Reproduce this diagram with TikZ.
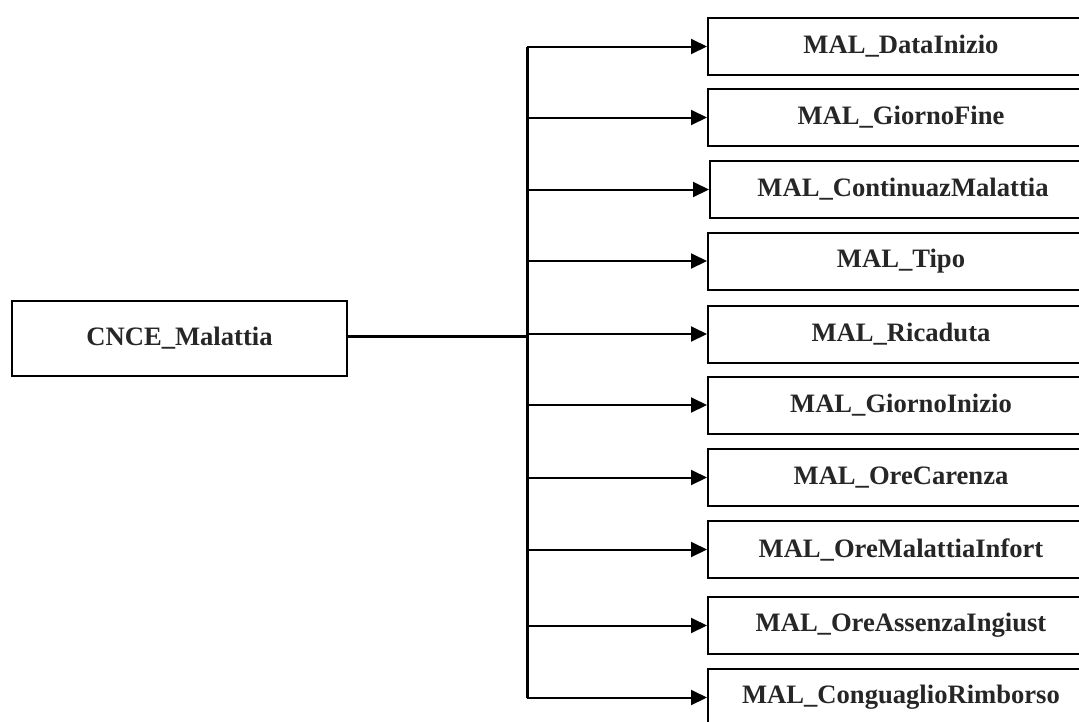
\documentclass[tikz,border=0pt]{standalone}
\usepackage{fontspec}
\setmainfont{Liberation Serif}
\usetikzlibrary{arrows.meta}
\begin{document}
\begin{tikzpicture}[x=1pt,y=-1pt,
  box/.style={draw=black, line width=2pt, fill=white, minimum width=386pt, minimum height=57pt,
    inner sep=0pt, anchor=west, font=\bfseries\fontsize{26.6}{30}\selectfont, text=black!85},
  rootbox/.style={draw=black, line width=2pt, fill=white, minimum width=335pt, minimum height=75pt,
    inner sep=0pt, font=\bfseries\fontsize{26.6}{30}\selectfont, text=black!85},
  conn/.style={line width=2pt, -{Triangle[length=16pt,width=15pt]}},
  trunk/.style={line width=3pt}]
\useasboundingbox (0,0) rectangle (1079,721);
\node[rootbox] (root) at (179.5,338) {CNCE\_Malattia};
\node[box] (b1) at (707,46.5) {MAL\_DataInizio};
\node[box] (b2) at (707,117.5) {MAL\_GiornoFine};
\node[box] (b3) at (709,189.5) {MAL\_ContinuazMalattia};
\node[box] (b4) at (707,261) {MAL\_Tipo};
\node[box] (b5) at (707,334) {MAL\_Ricaduta};
\node[box] (b6) at (707,405) {MAL\_GiornoInizio};
\node[box] (b7) at (707,477.5) {MAL\_OreCarenza};
\node[box] (b8) at (707,549.5) {MAL\_OreMalattiaInfort};
\node[box] (b9) at (707,625.5) {MAL\_OreAssenzaIngiust};
\node[box] (b10) at (707,697.5) {MAL\_ConguaglioRimborso};
\coordinate (j) at (527,336);
\draw[trunk] (root.east |- j) -- (j);
\draw[trunk] (b1.west -| j) -- (b10.west -| j);
\foreach \b in {b1,b2,b3,b4,b5,b6,b7,b8,b9,b10}{
  \draw[conn] (\b.west -| j) -- (\b.west);
}
\end{tikzpicture}
\end{document}
